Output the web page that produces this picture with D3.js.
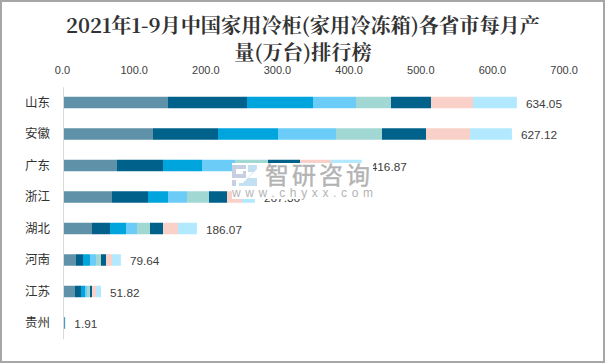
<!DOCTYPE html>
<html>
<head>
<meta charset="utf-8">
<script src="https://cdn.jsdelivr.net/npm/d3@7"></script>
<style>
  html, body { margin: 0; padding: 0; background: #fff; }
  text { font-family: "Liberation Sans", "Noto Sans CJK SC", sans-serif; }
</style>
</head>
<body>
<svg id="chart" width="605" height="363"></svg>
<script>
const provinces = ["山东", "安徽", "广东", "浙江", "湖北", "河南", "江苏", "贵州"];
const totals = [634.05, 627.12, 416.87, 267.36, 186.07, 79.64, 51.82, 1.91];
const m1 = [145.6, 124.6, 74.2, 67.2, 39.2, 16.8, 15.4, 0.3];
const m2 = [110.6, 91.0, 64.4, 50.4, 25.2, 9.8, 8.4, 0.8];
const m3 = [92.4, 84.0, 54.6, 28.0, 22.4, 9.8, 5.6, 0.3];
const m4 = [60.2, 81.2, 46.2, 26.6, 15.4, 8.4, 2.8, 0.1];
const m5 = [49.0, 64.4, 46.2, 30.8, 18.2, 7.0, 4.2, 0.1];
const m6 = [56.0, 61.6, 44.8, 25.2, 18.2, 7.0, 2.8, 0.1];
const m7 = [58.8, 61.6, 43.4, 21.0, 21.0, 8.4, 5.6, 0.1];
const m8 = [61.45, 58.72, 43.07, 18.16, 26.47, 12.44, 7.02, 0.11];
const monthValues = [m1, m2, m3, m4, m5, m6, m7, m8];
const monthColors = ["#5f92a9", "#00628b", "#00a5de", "#6bcdf7", "#a2d8d3", "#00628b", "#fad1c8", "#b3e9ff"];
const xTicks = [0, 100, 200, 300, 400, 500, 600, 700];

const svg = d3.select("#chart");

// outer frame
svg.append("rect")
    .attr("x", 1).attr("y", 1)
    .attr("width", 603).attr("height", 361)
    .attr("fill", "#fff")
    .attr("stroke", "#a6a6a6")
    .attr("stroke-width", 2);

const sx = d3.scaleLinear().domain([0, 700]).range([64, 564]);
// tick labels sit slightly left of the bars' zero in the reference
const sxLabels = d3.scaleLinear().domain([0, 700]).range([62, 563.6]);
const sy = d3.scaleBand().domain(provinces).range([86.75, 338.75]);
const barHeight = 11.5;

// title
svg.append("g").selectAll("text")
    .data(["2021年1-9月中国家用冷柜(家用冷冻箱)各省市每月产", "量(万台)排行榜"])
    .join("text")
    .attr("x", 303)
    .attr("y", (d, i) => 33 + i * 26.5)
    .attr("text-anchor", "middle")
    .attr("font-size", "20.2px")
    .attr("font-weight", "bold")
    .attr("fill", "#333")
    .style("font-family", '"Noto Serif CJK SC", "Liberation Serif", "Noto Sans CJK SC", serif')
    .text(d => d);

// x axis on top, labels only
const xAxis = svg.append("g")
    .attr("transform", "translate(0,74)")
    .call(d3.axisTop(sxLabels).tickValues(xTicks).tickFormat(d3.format(".1f")).tickSize(0).tickPadding(0));
xAxis.select(".domain").remove();
xAxis.selectAll("text").attr("font-size", "11px").attr("fill", "#404040");

// stacked bars
const rows = provinces.map((p, i) => {
    let sum = 0;
    return monthValues.map((vals, j) => {
        const seg = { province: p, start: sum, end: sum + vals[i], color: monthColors[j] };
        sum += vals[i];
        return seg;
    });
});

svg.append("g").selectAll("g")
    .data(rows)
    .join("g")
    .selectAll("rect")
    .data(d => d)
    .join("rect")
    .attr("x", d => sx(d.start))
    .attr("y", d => sy(d.province) + (sy.bandwidth() - barHeight) / 2)
    .attr("width", d => sx(d.end) - sx(d.start))
    .attr("height", barHeight)
    .attr("fill", d => d.color);

// category axis
const yAxis = svg.append("g")
    .attr("transform", "translate(63,0)")
    .call(d3.axisLeft(sy).tickSize(0).tickPadding(13));
yAxis.select(".domain").attr("stroke", "#d9d9d9");
yAxis.selectAll("text").attr("font-size", "12.5px").attr("fill", "#333");

// totals
svg.append("g").selectAll("text")
    .data(totals)
    .join("text")
    .attr("x", d => sx(d) + 9)
    .attr("y", (d, i) => sy(provinces[i]) + sy.bandwidth() / 2 + 5)
    .attr("font-size", "11.8px")
    .attr("fill", "#404040")
    .text(d => d.toFixed(2));

// watermark, opaque over the bars like in the reference
const mark = svg.append("g");
mark.append("rect").attr("x", 232).attr("y", 163).attr("width", 141).attr("height", 36).attr("fill", "#fff");
mark.append("text")
    .attr("x", 265).attr("y", 184)
    .attr("font-size", "24px")
    .attr("letter-spacing", "3px")
    .attr("fill", "#b3b3b3")
    .attr("stroke", "#b3b3b3")
    .attr("stroke-width", 0.4)
    .text("智研咨询");
mark.append("text")
    .attr("x", 232).attr("y", 197)
    .attr("font-size", "12px")
    .attr("textLength", 141)
    .attr("fill", "#b3b3b3")
    .text("www.chyxx.com");
// logo
mark.append("path")
    .attr("d", "M232 165h14v4h-10v5h7v-3h3v7h-14z M232 180h4v6h-4z")
    .attr("fill", "#c6d0e2");
mark.append("path")
    .attr("d", "M248 165h9v4l-9 9h9v8h-18v-3h4l10-11h-5z")
    .attr("fill", "#c3dff2");
</script>
</body>
</html>
